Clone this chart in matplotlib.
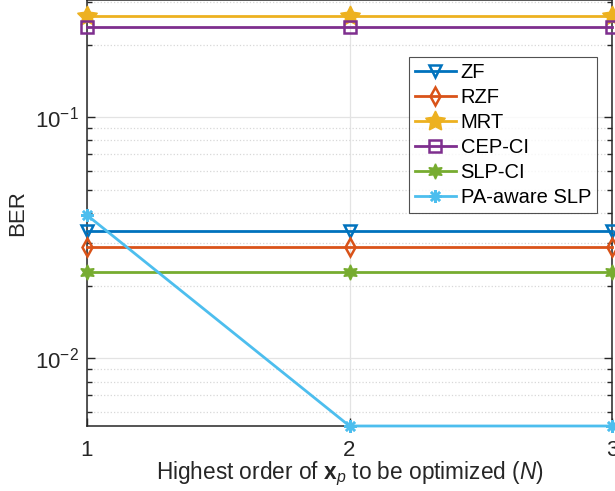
import matplotlib
matplotlib.use("Agg")
import matplotlib.pyplot as plt
from matplotlib.ticker import LogLocator, NullFormatter

plt.rcParams["font.family"] = ["Liberation Sans", "DejaVu Sans"]
plt.rcParams["mathtext.fontset"] = "custom"
plt.rcParams["mathtext.rm"] = "Liberation Sans"
plt.rcParams["mathtext.it"] = "Liberation Sans:italic"
plt.rcParams["mathtext.bf"] = "Liberation Sans:bold"

# data
orders = [1, 2, 3]
ber_zf = [0.0336, 0.0336, 0.0336]
ber_rzf = [0.0289, 0.0289, 0.0289]
ber_mrt = [0.262, 0.262, 0.262]
ber_cep = [0.236, 0.236, 0.236]
ber_slp = [0.0228, 0.0228, 0.0228]
ber_pa = [0.0392, 0.00523, 0.00523]

# name, values, colour, marker, size, face, edge width
series = [
    ("ZF", ber_zf, "#0072BD", "v", 9, "none", 1.8),
    ("RZF", ber_rzf, "#D95319", "d", 9, "none", 1.8),
    ("MRT", ber_mrt, "#EDB120", (5, 1, 0), 15, "#EDB120", 1.0),
    ("CEP-CI", ber_cep, "#7E2F8E", "s", 8, "none", 1.8),
    ("SLP-CI", ber_slp, "#77AC30", (6, 1, 0), 11, "#77AC30", 1.0),
    ("PA-aware SLP", ber_pa, "#4DBEEE", (8, 2, 0), 9, "#4DBEEE", 1.8),
]

fig = plt.figure(figsize=(6.15, 4.91), dpi=100)
ax = fig.add_axes([87 / 615, 1 - 426 / 491, (612 - 87) / 615, 426 / 491])

for name, vals, color, marker, ms, mfc, mew in series:
    ax.plot(
        orders,
        vals,
        color=color,
        linewidth=2,
        marker=marker,
        markersize=ms,
        markerfacecolor=mfc,
        markeredgewidth=mew,
        label=name,
        clip_on=False,
        zorder=3,
    )

ax.set_yscale("log")
ax.set_xlim(1, 3)
ax.set_ylim(0.00523, 0.306)
ax.set_xticks(orders)
ax.yaxis.set_major_locator(LogLocator(base=10, numticks=10))
ax.yaxis.set_minor_locator(LogLocator(base=10, subs=range(2, 10), numticks=10))
ax.yaxis.set_minor_formatter(NullFormatter())

ax.grid(which="major", color="#e3e3e3", linewidth=0.9)
ax.grid(which="minor", axis="y", color="#d8d8d8", linestyle=":", linewidth=0.9)
ax.set_axisbelow(True)

ax.tick_params(which="both", direction="in", right=True, colors="#262626",
               labelsize=16, width=1)
ax.tick_params(which="major", length=6)
ax.tick_params(which="minor", length=3.5)
ax.tick_params(axis="x", pad=10)
ax.tick_params(axis="y", pad=6)
for side in ["left", "bottom", "right", "top"]:
    ax.spines[side].set_color("#262626")
    ax.spines[side].set_linewidth(1.1)

ax.set_ylabel("BER", fontsize=16, color="#262626", labelpad=5)
ax.set_xlabel(r"Highest order of $\mathbf{x}_{p}$ to be optimized ($N$)",
              fontsize=16.3, color="#262626", labelpad=-1)

leg = ax.legend(
    loc="upper right",
    bbox_to_anchor=(597 / 615, 1 - 57 / 491),
    bbox_transform=fig.transFigure,
    fontsize=14.5,
    frameon=True,
    fancybox=False,
    edgecolor="#262626",
    handlelength=2.0,
    handletextpad=0.25,
    borderpad=0.3,
    labelspacing=0.3,
    borderaxespad=0,
)
leg.get_frame().set_linewidth(0.8)

fig.savefig("out.png", dpi=100)
